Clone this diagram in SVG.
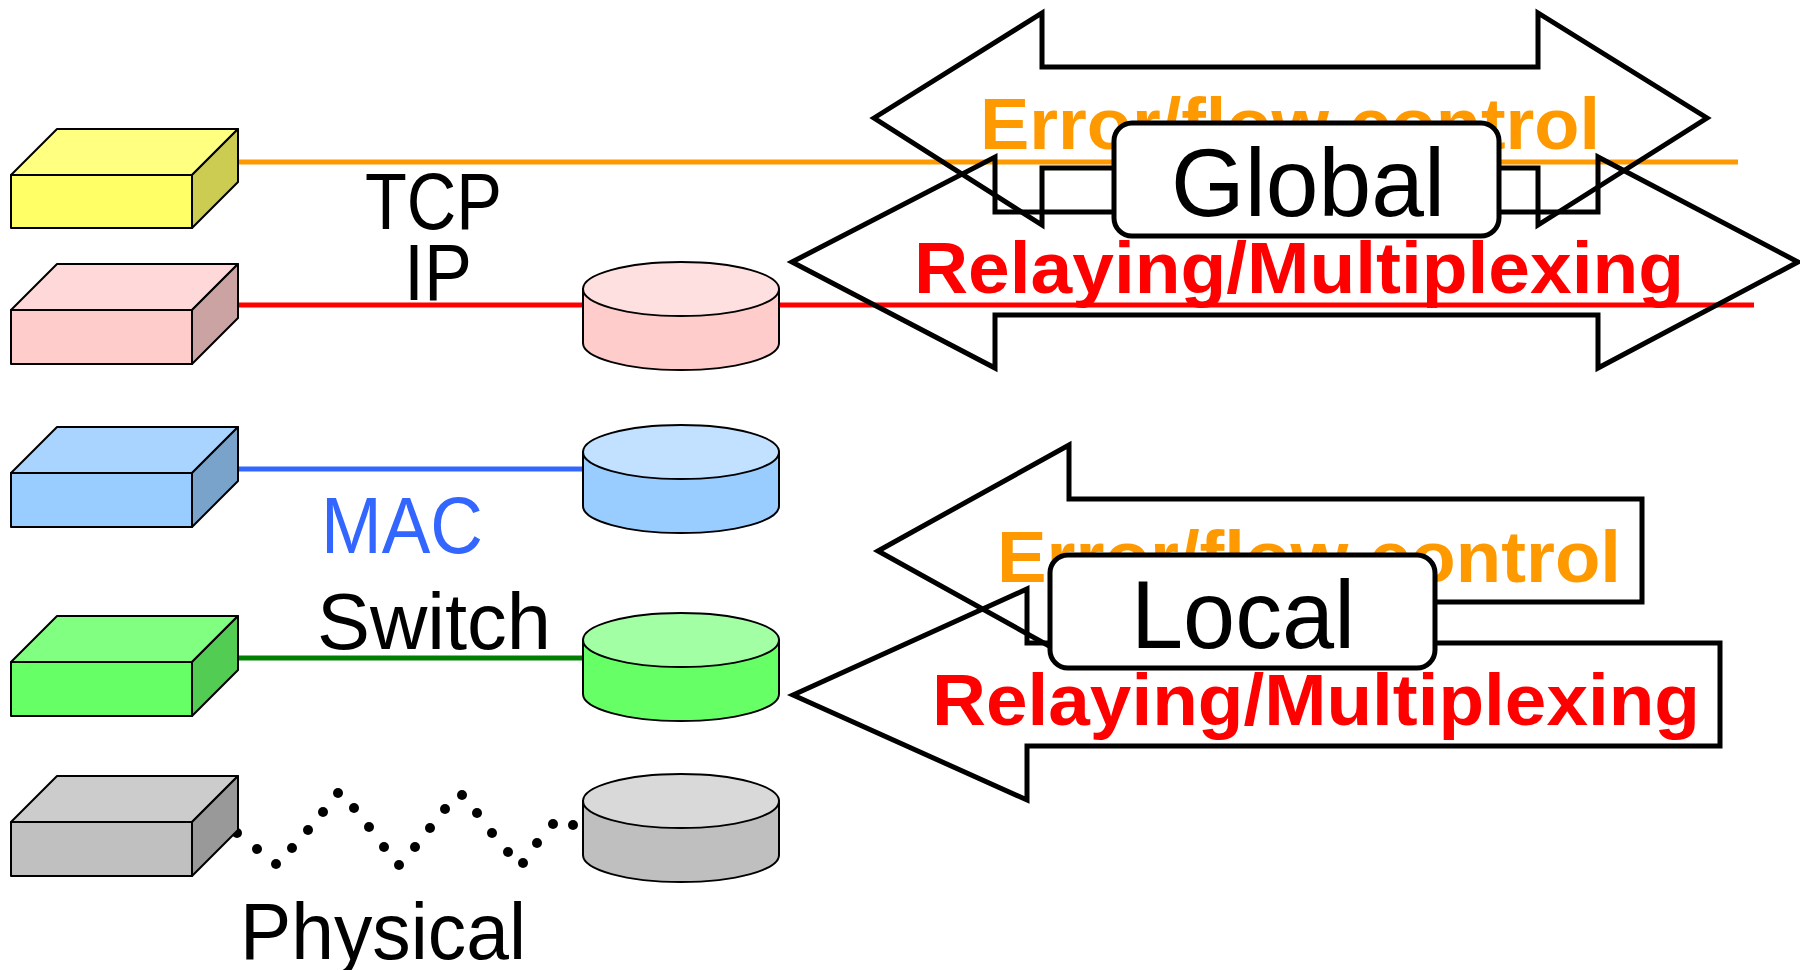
<svg xmlns="http://www.w3.org/2000/svg" width="1800" height="970" viewBox="0 0 1800 970">
  <style>
    .edge { stroke: #000; stroke-width: 2; stroke-linejoin: round; }
    .link { stroke-width: 5; fill: none; }
    .arrow { fill: none; stroke: #000; stroke-width: 5; stroke-linejoin: miter; }
    .label { font-family: "Liberation Sans", Arial, sans-serif; font-size: 80px; fill: #000; }
    .bold { font-family: "Liberation Sans", Arial, sans-serif; font-weight: bold; font-size: 73px; }
    .scope { font-family: "Liberation Sans", Arial, sans-serif; font-size: 96px; fill: #000; }
    .tag { fill: #fff; stroke: #000; stroke-width: 5; }
  </style>

  <rect width="1800" height="970" fill="#fff"/>

  <!-- links between hosts and routers -->
  <g id="connectors">
    <line class="link" x1="238" y1="162" x2="1738" y2="162" stroke="#FF9900"/>
    <line class="link" x1="238" y1="305" x2="590" y2="305" stroke="#FF0000"/>
    <line class="link" x1="775" y1="305" x2="1754" y2="305" stroke="#FF0000"/>
    <line class="link" x1="238" y1="469" x2="590" y2="469" stroke="#3366FF"/>
    <line class="link" x1="238" y1="658" x2="590" y2="658" stroke="#008000"/>
    <g id="physical-link" fill="#000">
      <circle cx="237" cy="833" r="5"/>
      <circle cx="257" cy="849" r="5"/>
      <circle cx="276" cy="864" r="5"/>
      <circle cx="292" cy="848" r="5"/>
      <circle cx="308" cy="830" r="5"/>
      <circle cx="323" cy="812" r="5"/>
      <circle cx="338" cy="793" r="5"/>
      <circle cx="354" cy="808" r="5"/>
      <circle cx="369" cy="827" r="5"/>
      <circle cx="384" cy="847" r="5"/>
      <circle cx="399" cy="865" r="5"/>
      <circle cx="415" cy="847" r="5"/>
      <circle cx="430" cy="828" r="5"/>
      <circle cx="445" cy="809" r="5"/>
      <circle cx="462" cy="795" r="5"/>
      <circle cx="477" cy="813" r="5"/>
      <circle cx="492" cy="833" r="5"/>
      <circle cx="508" cy="852" r="5"/>
      <circle cx="523" cy="863" r="5"/>
      <circle cx="537" cy="843" r="5"/>
      <circle cx="553" cy="824" r="5"/>
      <circle cx="573" cy="825" r="5"/>
    </g>
  </g>

  <!-- host stack (left): front face, top face, side face -->
  <g id="host-tcp">
    <rect class="edge" x="11" y="175" width="181" height="53" fill="#FFFF66"/>
    <polygon class="edge" points="11,175 57,129 238,129 192,175" fill="#FFFF80"/>
    <polygon class="edge" points="192,175 238,129 238,182 192,228" fill="#CCCC52"/>
  </g>
  <g id="host-ip">
    <rect class="edge" x="11" y="310" width="181" height="54" fill="#FFCCCC"/>
    <polygon class="edge" points="11,310 57,264 238,264 192,310" fill="#FFD9D9"/>
    <polygon class="edge" points="192,310 238,264 238,318 192,364" fill="#CCA3A3"/>
  </g>
  <g id="host-mac">
    <rect class="edge" x="11" y="473" width="181" height="54" fill="#99CCFF"/>
    <polygon class="edge" points="11,473 57,427 238,427 192,473" fill="#A8D4FF"/>
    <polygon class="edge" points="192,473 238,427 238,481 192,527" fill="#7AA3CC"/>
  </g>
  <g id="host-switch">
    <rect class="edge" x="11" y="662" width="181" height="54" fill="#66FF66"/>
    <polygon class="edge" points="11,662 57,616 238,616 192,662" fill="#80FF80"/>
    <polygon class="edge" points="192,662 238,616 238,670 192,716" fill="#52CC52"/>
  </g>
  <g id="host-physical">
    <rect class="edge" x="11" y="822" width="181" height="54" fill="#C0C0C0"/>
    <polygon class="edge" points="11,822 57,776 238,776 192,822" fill="#CCCCCC"/>
    <polygon class="edge" points="192,822 238,776 238,830 192,876" fill="#999999"/>
  </g>

  <!-- router stack (middle) -->
  <g id="router-ip">
    <path class="edge" d="M583,289 L583,343 A98,27 0 0 0 779,343 L779,289 Z" fill="#FFCCCC"/>
    <ellipse class="edge" cx="681" cy="289" rx="98" ry="27" fill="#FFE0E0"/>
  </g>
  <g id="router-mac">
    <path class="edge" d="M583,452 L583,506 A98,27 0 0 0 779,506 L779,452 Z" fill="#99CCFF"/>
    <ellipse class="edge" cx="681" cy="452" rx="98" ry="27" fill="#C2E0FF"/>
  </g>
  <g id="router-switch">
    <path class="edge" d="M583,640 L583,694 A98,27 0 0 0 779,694 L779,640 Z" fill="#66FF66"/>
    <ellipse class="edge" cx="681" cy="640" rx="98" ry="27" fill="#A3FFA3"/>
  </g>
  <g id="router-physical">
    <path class="edge" d="M583,801 L583,855 A98,27 0 0 0 779,855 L779,801 Z" fill="#BFBFBF"/>
    <ellipse class="edge" cx="681" cy="801" rx="98" ry="27" fill="#D9D9D9"/>
  </g>

  <!-- layer names -->
  <g id="layer-labels">
    <text class="label" x="365" y="229" textLength="137" lengthAdjust="spacingAndGlyphs">TCP</text>
    <text class="label" x="404" y="300" textLength="68" lengthAdjust="spacingAndGlyphs">IP</text>
    <text class="label" x="321" y="553" textLength="162" lengthAdjust="spacingAndGlyphs" style="fill:#3366FF">MAC</text>
    <text class="label" x="317" y="649" textLength="234" lengthAdjust="spacingAndGlyphs">Switch</text>
    <text class="label" x="240" y="959" textLength="286" lengthAdjust="spacingAndGlyphs">Physical</text>
  </g>

  <!-- global scope: end-to-end arrows -->
  <g id="global">
    <path class="arrow" d="M874,118 L1042,13 L1042,67 L1538,67 L1538,13 L1707,118 L1538,225 L1538,168 L1042,168 L1042,225 Z"/>
    <path class="arrow" d="M792,262 L995,157 L995,212 L1598,212 L1598,157 L1798,262 L1598,368 L1598,315 L995,315 L995,368 Z"/>
    <text class="bold" x="980" y="149" textLength="620" lengthAdjust="spacingAndGlyphs" fill="#FF9900">Error/flow control</text>
    <text class="bold" x="914" y="293" textLength="770" lengthAdjust="spacingAndGlyphs" fill="#FF0000">Relaying/Multiplexing</text>
    <rect class="tag" x="1114" y="123" width="385" height="113" rx="18"/>
    <text class="scope" x="1308" y="216" text-anchor="middle" textLength="274" lengthAdjust="spacingAndGlyphs">Global</text>
  </g>

  <!-- local scope: one-way arrows -->
  <g id="local">
    <path class="arrow" d="M878,551 L1069,445 L1069,499 L1642,499 L1642,602 L1069,602 L1069,657 Z"/>
    <path class="arrow" d="M793,695 L1027,589 L1027,643 L1720,643 L1720,746 L1027,746 L1027,800 Z"/>
    <text class="bold" x="997" y="582" textLength="624" lengthAdjust="spacingAndGlyphs" fill="#FF9900">Error/flow control</text>
    <text class="bold" x="932" y="725" textLength="768" lengthAdjust="spacingAndGlyphs" fill="#FF0000">Relaying/Multiplexing</text>
    <rect class="tag" x="1050" y="555" width="385" height="113" rx="18"/>
    <text class="scope" x="1243" y="648" text-anchor="middle" textLength="224" lengthAdjust="spacingAndGlyphs">Local</text>
  </g>
</svg>
